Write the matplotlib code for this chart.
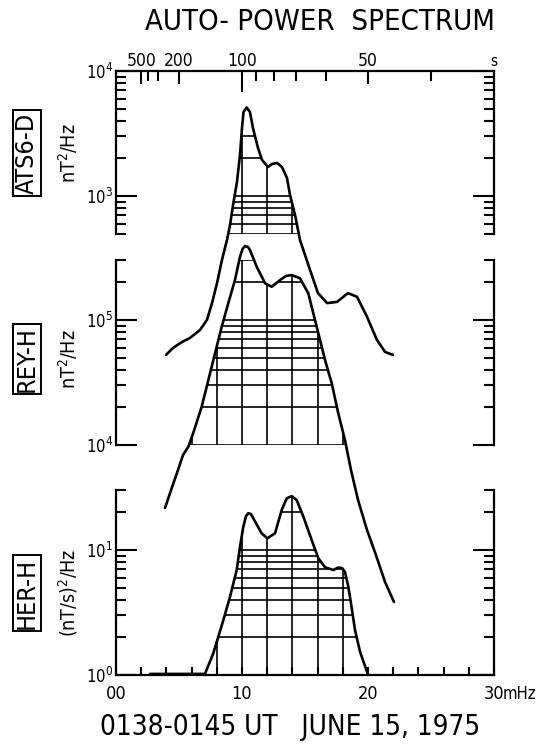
import numpy as np
import matplotlib
matplotlib.use("Agg")
import matplotlib.pyplot as plt
from matplotlib.patches import Polygon
from matplotlib.ticker import LogLocator, NullFormatter, LogFormatterMathtext, FixedLocator, FixedFormatter

plt.rcParams['font.family'] = ['DejaVu Sans']
plt.rcParams['font.stretch'] = 'condensed'
plt.rcParams['mathtext.default'] = 'regular'

# ATS6-D spectrum (nT^2/Hz) vs frequency (mHz)
ats_f = [3.97, 4.52, 5.24, 5.87, 6.67, 7.22, 7.62, 8.02, 8.41, 8.81, 9.05, 9.29, 9.60,
         9.84, 10.0, 10.12, 10.37, 10.63, 10.87, 11.27, 11.59, 12.06, 12.38, 12.78, 13.17,
         13.57, 13.81, 14.21, 14.60, 15.40, 16.03, 16.75, 17.54, 18.41, 19.13, 19.92,
         20.71, 21.35, 21.98]
ats_p = [53.5, 60.8, 67.9, 73.1, 84.7, 102, 139, 201, 308, 445, 586, 847, 1294,
         2128, 3499, 4699, 5105, 4699, 3499, 2421, 1941, 1706, 1803, 1837, 1706,
         1393, 1019, 705, 445, 256, 167, 139, 142, 167, 156, 108,
         70.5, 56.5, 53.5]

# REY-H spectrum (nT^2/Hz)
rey_f = [3.89, 4.37, 4.92, 5.32, 5.74, 6.13, 6.80, 7.33, 7.86, 8.39, 8.91, 9.44, 9.84,
         10.04, 10.24, 10.48, 10.63, 11.17, 11.83, 12.36, 13.02, 13.49, 13.94, 14.60,
         15.26, 15.66, 16.06, 16.59, 17.12, 17.64, 18.17, 18.65, 19.21, 19.92, 20.63,
         21.35, 22.06]
rey_p = [3133, 4365, 6310, 8318, 9683, 12470, 20230, 33110, 54200, 88330, 136100,
         208900, 320600, 369800, 390800, 383700, 363100, 266700, 196800, 184500,
         208900, 224900, 229100, 215800, 163700, 113200, 78340, 47860, 31190, 17950,
         10960, 6310, 3631, 2089, 1318, 802, 555]

# HER-H spectrum ((nT/s)^2/Hz)
her_f = [2.70, 7.06, 7.72, 8.52, 9.05, 9.58, 9.84, 10.10, 10.32, 10.50, 10.71, 10.90,
         11.23, 11.56, 12.01, 12.62, 13.15, 13.55, 13.94, 14.34, 14.87, 15.53, 16.06,
         16.59, 17.25, 17.62, 17.94, 18.17, 18.44, 18.61, 18.97, 19.37, 20.0]
her_p = [1.02, 1.02, 1.49, 2.75, 4.23, 6.92, 10.6, 15.3, 18.7, 19.7, 19.4, 17.9,
         15.6, 13.6, 12.4, 13.6, 20.9, 25.9, 27.0, 25.1, 18.5, 12.0, 8.59,
         7.28, 6.92, 7.24, 7.18, 6.70, 5.08, 3.98, 2.29, 1.53, 1.01]

# hatch grid levels
grid_f = [6, 8, 10, 12, 14, 16, 18]
ats_levels = [500, 600, 700, 800, 900, 1000, 2000, 3000]
rey_levels = [1e4, 2e4, 3e4, 4e4, 5e4, 6e4, 7e4, 8e4, 9e4, 1e5, 2e5, 3e5]
her_levels = [1, 2, 3, 4, 5, 6, 7, 8, 9, 10, 20, 30]

period_ticks = [500, 200, 100, 50]
period_minor = [400, 300, 90, 80, 70, 60, 40]
freq_ticks = [0, 10, 20, 30]
freq_labels = ['00', '10', '20', '30']

W, H = 544, 749
X0, X1 = 116, 494
fig = plt.figure(figsize=(W / 100, H / 100), dpi=100)


def px_axes(top, bottom):
    return fig.add_axes([X0 / W, 1 - bottom / H, (X1 - X0) / W, (bottom - top) / H])


ax1 = px_axes(71, 233.6)
ax2 = px_axes(260.4, 445)
ax3 = px_axes(490.4, 675)

panels = [(ax1, (500, 1e4), ats_f, ats_p, ats_levels),
          (ax2, (1e4, 3e5), rey_f, rey_p, rey_levels),
          (ax3, (1, 30), her_f, her_p, her_levels)]

for ax, ylim, f, p, levels in panels:
    ax.set_facecolor('none')
    ax.set_yscale('log')
    ax.set_xlim(0, 30)
    ax.set_ylim(*ylim)
    for s in ax.spines.values():
        s.set_linewidth(1.6)
    ax.spines['top'].set_visible(False)
    ax.spines['bottom'].set_visible(False)
    ax.yaxis.set_major_locator(LogLocator(base=10, numticks=10))
    ax.yaxis.set_minor_locator(LogLocator(base=10, subs=np.arange(2, 10), numticks=30))
    ax.yaxis.set_major_formatter(LogFormatterMathtext())
    ax.yaxis.set_minor_formatter(NullFormatter())
    ax.tick_params(axis='y', which='both', direction='in', left=True, right=True,
                   width=1.5, labelsize=12, pad=2)
    ax.tick_params(axis='y', which='major', length=15)
    ax.tick_params(axis='y', which='minor', length=7)
    ax.tick_params(axis='x', which='both', bottom=False, top=False,
                   labelbottom=False, labeltop=False)

    # area under the curve, used to clip the hatch grid
    poly_x = list(f) + [f[-1], f[0]]
    poly_y = list(p) + [ylim[0] / 100, ylim[0] / 100]
    clip = Polygon(np.column_stack([poly_x, poly_y]), closed=True, transform=ax.transData)
    hl = ax.hlines(levels, 0, 30, colors='black', linewidth=1.2)
    vl = ax.vlines(grid_f, ylim[0], ylim[1], colors='black', linewidth=1.2)
    hl.set_clip_path(clip)
    vl.set_clip_path(clip)

    ax.plot(f, p, color='black', linewidth=1.9, clip_on=False,
            solid_joinstyle='round', solid_capstyle='round')

# period axis on top of the first panel
ax1.spines['top'].set_visible(True)
ax1.xaxis.set_ticks_position('top')
ax1.xaxis.set_major_locator(FixedLocator([1000 / t for t in period_ticks]))
ax1.xaxis.set_major_formatter(FixedFormatter([str(t) for t in period_ticks]))
ax1.xaxis.set_minor_locator(FixedLocator([1000 / t for t in period_minor]))
ax1.tick_params(axis='x', which='both', top=True, labeltop=True, direction='in',
                width=1.5, labelsize=12.5, pad=1)
ax1.tick_params(axis='x', which='major', length=9)
ax1.tick_params(axis='x', which='minor', length=7)
for t, per in zip(ax1.xaxis.get_major_ticks(), period_ticks):
    if per == 100:
        t.tick2line.set_markersize(15)
ax1.text(30, 1.03e4, 's', ha='center', va='bottom', fontsize=11)

# frequency axis below the last panel
ax3.spines['bottom'].set_visible(True)
ax3.xaxis.set_major_locator(FixedLocator(freq_ticks))
ax3.xaxis.set_major_formatter(FixedFormatter(freq_labels))
ax3.xaxis.set_minor_locator(FixedLocator(np.arange(0, 31, 2)))
ax3.tick_params(axis='x', which='both', bottom=True, labelbottom=True, direction='in',
                width=1.5, labelsize=13, pad=7)
ax3.tick_params(axis='x', which='major', length=6)
ax3.tick_params(axis='x', which='minor', length=6)
ax3.annotate('mHz', xy=(30, 1), xytext=(6.5, -7), textcoords='offset points',
             ha='left', va='top', fontsize=12)


def ftext(x, y, s, **kw):
    fig.text(x / W, 1 - y / H, s, **kw)


ftext(320, 22, 'AUTO- POWER  SPECTRUM', ha='center', va='center', fontsize=21)
ftext(290, 727, '0138-0145 UT   JUNE 15, 1975', ha='center', va='center', fontsize=20)

box = dict(boxstyle='square,pad=0.08', facecolor='none', edgecolor='black', linewidth=1.4)
for name, unit, yc in [('ATS6-D', 'nT$^2$/Hz', 153),
                       ('REY-H', 'nT$^2$/Hz', 359),
                       ('HER-H', '(nT/s)$^2$/Hz', 593)]:
    ftext(27, yc, name, rotation=90, ha='center', va='center', fontsize=18, bbox=box)
    ftext(68, yc, unit, rotation=90, ha='center', va='center', fontsize=14)

fig.savefig('out.png', dpi=100)
